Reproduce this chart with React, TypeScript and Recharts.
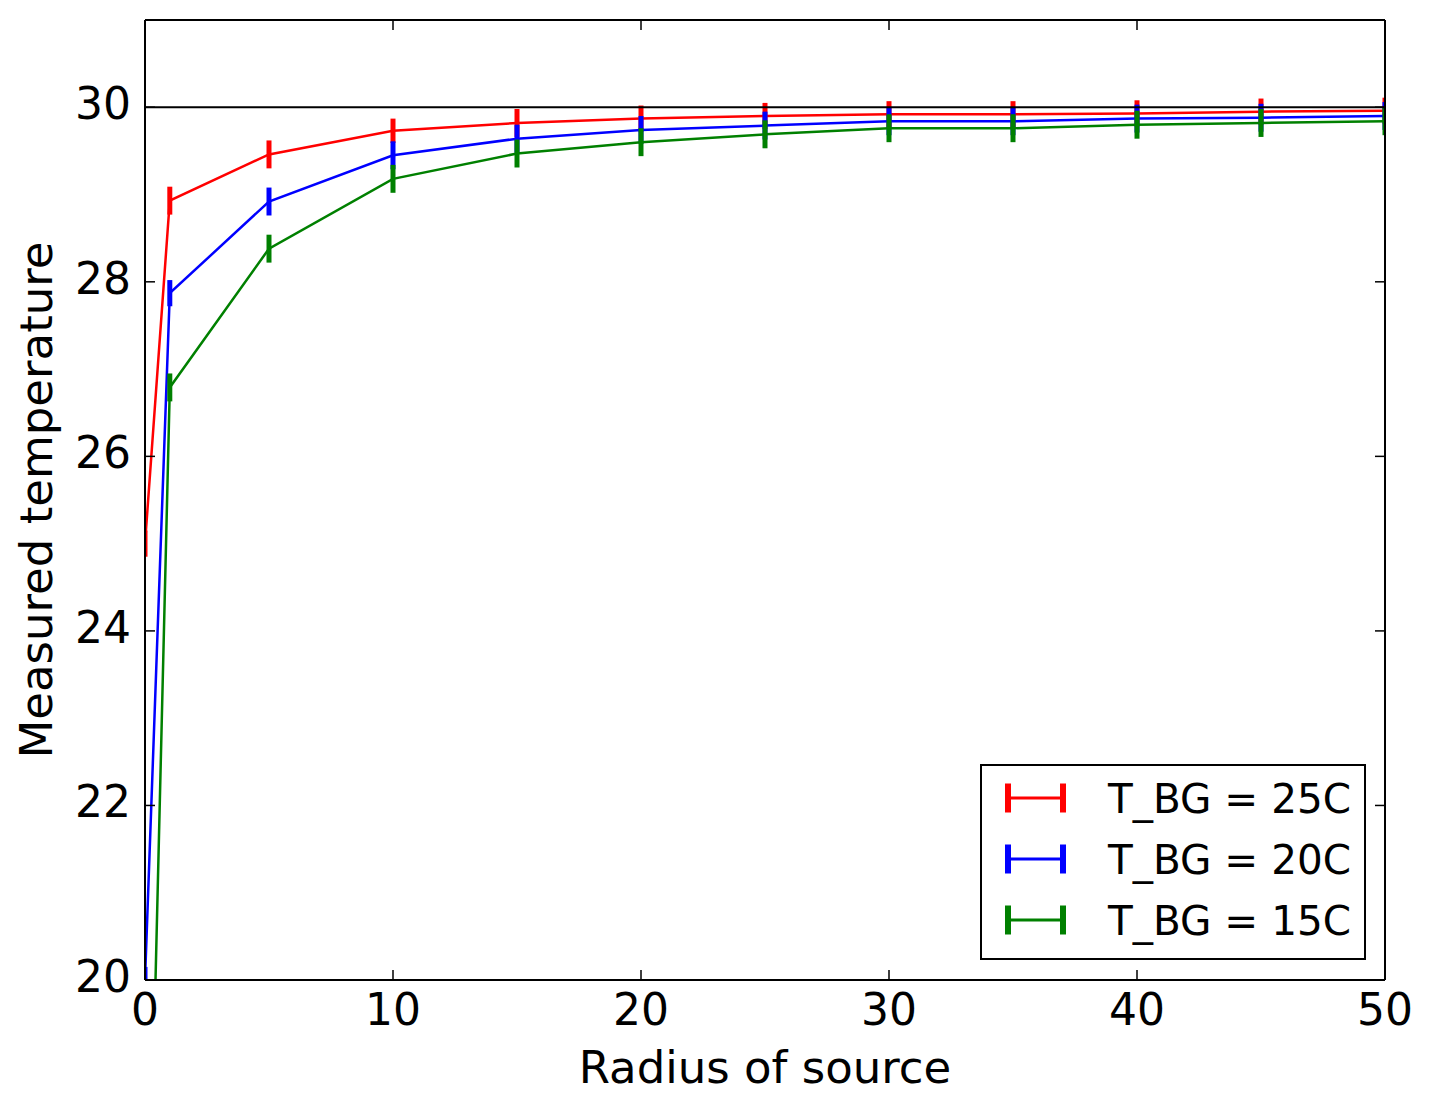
import React from "react";
import { LineChart, Line, XAxis, YAxis, ErrorBar, ReferenceLine } from "recharts";

const FONT = "'DejaVu Sans', sans-serif";

// radius of the source
const radius = [0, 1, 5, 10, 15, 20, 25, 30, 35, 40, 45, 50];

// measured temperature per background temperature
const bg25 = [25.0, 28.93, 29.46, 29.73, 29.82, 29.87, 29.9, 29.92, 29.92, 29.93, 29.95, 29.96];
const bg25Err = [0.15, 0.16, 0.16, 0.14, 0.16, 0.15, 0.15, 0.15, 0.15, 0.15, 0.15, 0.15];
const bg20 = [20.0, 27.87, 28.92, 29.45, 29.64, 29.74, 29.79, 29.84, 29.84, 29.87, 29.88, 29.9];
const bg20Err = [0.15, 0.15, 0.16, 0.16, 0.16, 0.16, 0.16, 0.16, 0.16, 0.16, 0.16, 0.16];
const bg15 = [15.0, 26.79, 28.38, 29.18, 29.47, 29.6, 29.69, 29.76, 29.76, 29.8, 29.82, 29.84];
const bg15Err = [0.16, 0.16, 0.16, 0.16, 0.16, 0.16, 0.16, 0.16, 0.16, 0.16, 0.16, 0.16];

const xTicks = [0, 10, 20, 30, 40, 50];
const yTicks = [20, 22, 24, 26, 28, 30];

const series = [
  { key: "bg25", err: "bg25Err", name: "T_BG = 25C", color: "#ff0000" },
  { key: "bg20", err: "bg20Err", name: "T_BG = 20C", color: "#0000ff" },
  { key: "bg15", err: "bg15Err", name: "T_BG = 15C", color: "#008000" },
];

const data = radius.map((r, i) => ({
  r,
  bg25: bg25[i],
  bg25Err: bg25Err[i],
  bg20: bg20[i],
  bg20Err: bg20Err[i],
  bg15: bg15[i],
  bg15Err: bg15Err[i],
}));

// plot box, used only to clip the error bars like the lines are clipped
const PLOT = { left: 145, top: 20, width: 1240, height: 960 };

const BottomTick = ({ x, y, payload }: any) => (
  <g>
    <line x1={x} x2={x} y1={y} y2={y - 10} stroke="#000" strokeWidth={1.5} />
    <text x={x} y={y + 45} textAnchor="middle" fontSize={44} fontFamily={FONT} fill="#000">
      {payload.value}
    </text>
  </g>
);

const TopTick = ({ x, y }: any) => (
  <line x1={x} x2={x} y1={y} y2={y + 10} stroke="#000" strokeWidth={1.5} />
);

const LeftTick = ({ x, y, payload }: any) => (
  <g>
    <line x1={x} x2={x + 10} y1={y} y2={y} stroke="#000" strokeWidth={1.5} />
    <text x={x - 14} y={y + 12} textAnchor="end" fontSize={44} fontFamily={FONT} fill="#000">
      {payload.value}
    </text>
  </g>
);

const RightTick = ({ x, y }: any) => (
  <line x1={x} x2={x - 10} y1={y} y2={y} stroke="#000" strokeWidth={1.5} />
);

const XLabel = ({ viewBox }: any) => (
  <text
    x={viewBox.x + viewBox.width / 2}
    y={viewBox.y + 103}
    textAnchor="middle"
    fontSize={45}
    fontFamily={FONT}
    fill="#000"
  >
    Radius of source
  </text>
);

const YLabel = ({ viewBox }: any) => {
  const cx = 52;
  const cy = viewBox.y + viewBox.height / 2;
  return (
    <text
      x={cx}
      y={cy}
      transform={`rotate(-90, ${cx}, ${cy})`}
      textAnchor="middle"
      fontSize={45}
      fontFamily={FONT}
      fill="#000"
    >
      Measured temperature
    </text>
  );
};

function LegendBox() {
  return (
    <svg
      width={386}
      height={196}
      style={{ position: "absolute", left: 980, top: 764 }}
    >
      <rect x={1} y={1} width={384} height={194} fill="#fff" stroke="#000" strokeWidth={2} />
      {series.map((s, i) => {
        const cy = 34 + i * 61;
        return (
          <g key={s.key}>
            <line x1={28} x2={83} y1={cy} y2={cy} stroke={s.color} strokeWidth={3} />
            <line x1={28} x2={28} y1={cy - 14.5} y2={cy + 14.5} stroke={s.color} strokeWidth={6} />
            <line x1={83} x2={83} y1={cy - 14.5} y2={cy + 14.5} stroke={s.color} strokeWidth={6} />
            <text x={128} y={cy + 15} fontSize={40.5} fontFamily={FONT} fill="#000">
              {s.name}
            </text>
          </g>
        );
      })}
    </svg>
  );
}

export default function App() {
  return (
    <div style={{ position: "absolute", left: 0, top: 0, width: 1433, height: 1111, background: "#fff" }}>
      <style>{`.recharts-errorBars { clip-path: url(#plot-clip); }`}</style>
      <svg width={0} height={0} style={{ position: "absolute", left: 0, top: 0 }}>
        <defs>
          <clipPath id="plot-clip" clipPathUnits="userSpaceOnUse">
            <rect x={PLOT.left} y={PLOT.top} width={PLOT.width} height={PLOT.height} />
          </clipPath>
        </defs>
      </svg>
      <LineChart
        width={1433}
        height={1111}
        data={data}
        margin={{ top: 19, right: 47, bottom: 0, left: 0 }}
      >
        <XAxis
          dataKey="r"
          type="number"
          domain={[0, 50]}
          ticks={xTicks}
          allowDataOverflow
          height={131}
          tickSize={0}
          tickMargin={0}
          tickLine={false}
          axisLine={{ stroke: "#000", strokeWidth: 2 }}
          tick={<BottomTick />}
          label={<XLabel />}
        />
        <XAxis
          xAxisId="top"
          orientation="top"
          dataKey="r"
          type="number"
          domain={[0, 50]}
          ticks={xTicks}
          allowDataOverflow
          height={1}
          tickSize={0}
          tickMargin={0}
          tickLine={false}
          axisLine={{ stroke: "#000", strokeWidth: 2 }}
          tick={<TopTick />}
        />
        <YAxis
          type="number"
          domain={[20, 31]}
          ticks={yTicks}
          allowDataOverflow
          width={145}
          tickSize={0}
          tickMargin={0}
          tickLine={false}
          axisLine={{ stroke: "#000", strokeWidth: 2 }}
          tick={<LeftTick />}
          label={<YLabel />}
        />
        <YAxis
          yAxisId="right"
          orientation="right"
          type="number"
          domain={[20, 31]}
          ticks={yTicks}
          allowDataOverflow
          width={1}
          tickSize={0}
          tickMargin={0}
          tickLine={false}
          axisLine={{ stroke: "#000", strokeWidth: 2 }}
          tick={<RightTick />}
        />
        {series.map((s) => (
          <Line
            key={s.key}
            type="linear"
            dataKey={s.key}
            stroke={s.color}
            strokeWidth={2.5}
            dot={false}
            activeDot={false}
            isAnimationActive={false}
          >
            <ErrorBar
              dataKey={s.err}
              direction="y"
              width={0}
              stroke={s.color}
              strokeWidth={5}
              isAnimationActive={false}
            />
          </Line>
        ))}
        <ReferenceLine y={30} stroke="#000" strokeWidth={2.2} />
      </LineChart>
      <LegendBox />
    </div>
  );
}
